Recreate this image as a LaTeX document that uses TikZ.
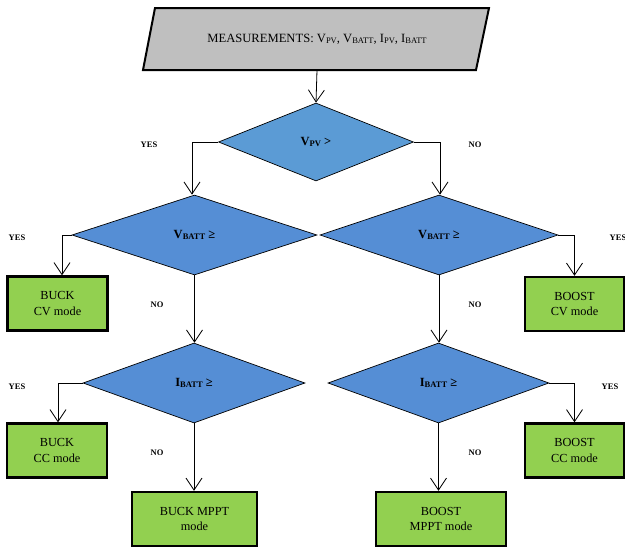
\documentclass[tikz,border=0pt]{standalone}
\usepackage{fontspec}
\setmainfont{Liberation Serif}
\usetikzlibrary{shapes.geometric,arrows.meta}
\definecolor{grayfill}{HTML}{BFBFBF}
\definecolor{topblue}{HTML}{5B9BD5}
\definecolor{decblue}{HTML}{558ED5}
\definecolor{boxgreen}{HTML}{92D050}
\newcommand{\sbs}[1]{\raisebox{-0.8pt}{\fontsize{8.5}{8.5}\selectfont #1}}
\tikzset{
  decision/.style={diamond, draw=black, line width=0.7pt, fill=decblue, aspect=2.5, inner sep=0pt,
    font=\fontsize{12.5}{14}\selectfont\bfseries},
  result/.style={rectangle, draw=black, line width=2.4pt, fill=boxgreen, align=center,
    minimum height=54pt, font=\fontsize{12.3}{15.5}\selectfont},
  conn/.style={draw=black, line width=0.8pt, -{Straight Barb[length=12pt,width=16pt,line width=0.8pt]}},
  lbl/.style={font=\fontsize{8.5}{10}\selectfont\bfseries, inner sep=0pt},
}
\begin{document}
\begin{tikzpicture}[x=1pt,y=-1pt]
\useasboundingbox (0,0) rectangle (625,549);
% measurements parallelogram
\draw[line width=2pt, fill=grayfill] (155,8) -- (489,8) -- (476,70) -- (143,70) -- cycle;
\node[minimum width=300pt, minimum height=62pt, inner sep=0pt, font=\fontsize{12.6}{14}\selectfont] (meas) at (317,39)
  {MEASUREMENTS: V\sbs{PV}, V\sbs{BATT}, I\sbs{PV}, I\sbs{BATT}};
% decisions
\node[decision, fill=topblue, minimum width=195pt, minimum height=78pt] (d1) at (316,142) {V\sbs{PV} >};
\node[decision, minimum width=245pt, minimum height=80pt] (d2) at (194.5,235) {V\sbs{BATT} ≥};
\node[decision, minimum width=238pt, minimum height=80pt] (d3) at (439,235) {V\sbs{BATT} ≥};
\node[decision, minimum width=222pt, minimum height=80pt] (d4) at (194,383) {I\sbs{BATT} ≥};
\node[decision, minimum width=221pt, minimum height=80pt] (d5) at (438.5,383) {I\sbs{BATT} ≥};
% results
\node[result, minimum width=100pt] (buckcv) at (57.5,303.5) {BUCK\\CV mode};
\node[result, minimum width=99pt] (boostcv) at (574.5,304) {BOOST\\CV mode};
\node[result, minimum width=100pt] (buckcc) at (57,450.5) {BUCK\\CC mode};
\node[result, minimum width=99pt] (boostcc) at (574.5,450.5) {BOOST\\CC mode};
\node[result, minimum width=125pt] (buckmppt) at (194.5,519) {BUCK MPPT\\mode};
\node[result, minimum width=130pt] (boostmppt) at (441,519) {BOOST\\MPPT mode};
% corner coordinates
\coordinate (c1l) at (192,142);
\coordinate (c1r) at (440,142);
\coordinate (c2l) at (62,235);
\coordinate (c3r) at (574.5,235);
\coordinate (c4l) at (58,383);
\coordinate (c5r) at (574.5,383);
% connectors
\draw[conn] (meas.south) -- (d1.north);
\draw[conn] (d1.west) -- (c1l) -- (c1l |- d2.north);
\draw[conn] (d1.east) -- (c1r) -- (c1r |- d3.north);
\draw[conn] (d2.west) -- (c2l) -- (c2l |- buckcv.north);
\draw[conn] (d3.east) -- (c3r) -- (boostcv.north);
\draw[conn] (d2.south) -- (d2.south |- d4.north);
\draw[conn] (d3.south) -- (d3.south |- d5.north);
\draw[conn] (d4.west) -- (c4l) -- (c4l |- buckcc.north);
\draw[conn] (d5.east) -- (c5r) -- (boostcc.north);
\draw[conn] (d4.south) -- (d4.south |- buckmppt.north);
\draw[conn] (d5.south) -- (d5.south |- boostmppt.north);
% labels
\node[lbl] (l1) at (149,145) {YES};
\node[lbl] (l2) at (475,145) {NO};
\node[lbl] (l3) at (17,238) {YES};
\node[lbl] (l4) at (618,238) {YES};
\node[lbl] (l5) at (157,305) {NO};
\node[lbl] (l6) at (475,305) {NO};
\node[lbl] (l7) at (17,387) {YES};
\node[lbl] (l8) at (610,387) {YES};
\node[lbl] (l9) at (157,453) {NO};
\node[lbl] (l10) at (475,453) {NO};
\end{tikzpicture}
\end{document}
